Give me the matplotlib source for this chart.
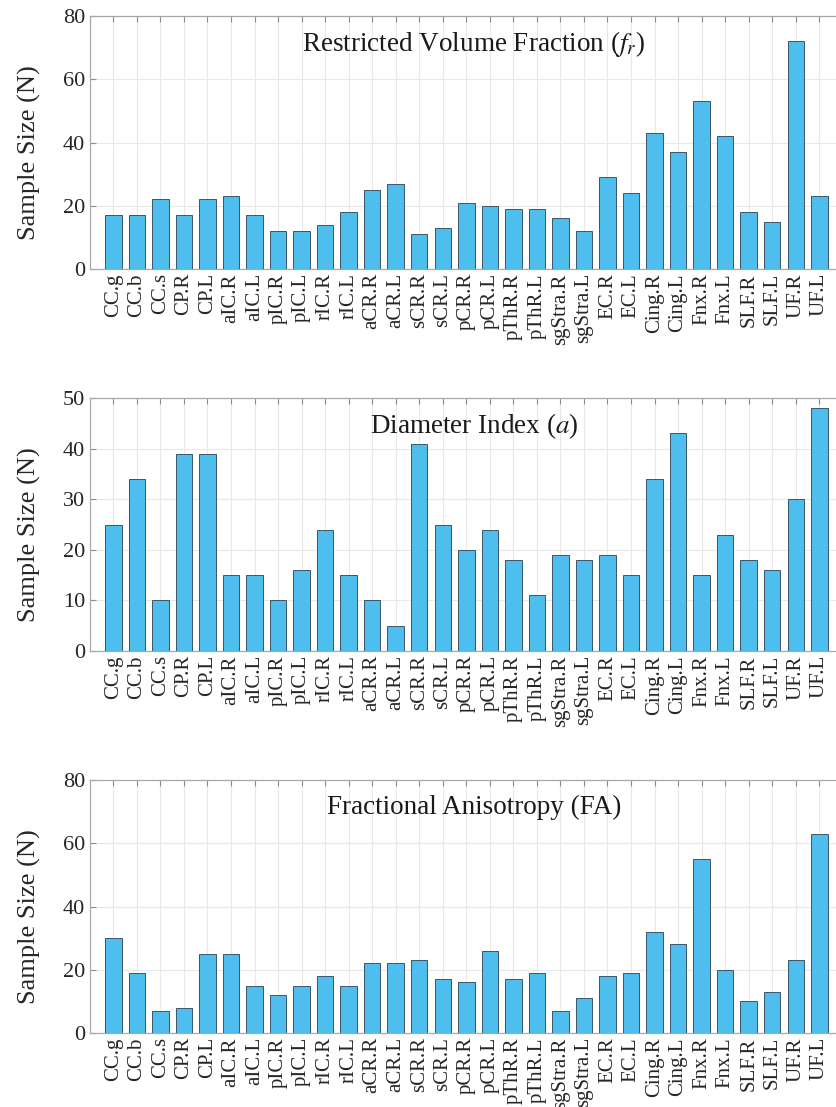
import matplotlib
matplotlib.use("Agg")
import matplotlib.pyplot as plt
import numpy as np

plt.rcParams['font.family'] = ['Liberation Serif', 'DejaVu Serif']
plt.rcParams['mathtext.fontset'] = 'stix'

regions = ["CC.g", "CC.b", "CC.s", "CP.R", "CP.L", "aIC.R", "aIC.L", "pIC.R", "pIC.L",
           "rIC.R", "rIC.L", "aCR.R", "aCR.L", "sCR.R", "sCR.L", "pCR.R", "pCR.L",
           "pThR.R", "pThR.L", "sgStra.R", "sgStra.L", "EC.R", "EC.L", "Cing.R", "Cing.L",
           "Fnx.R", "Fnx.L", "SLF.R", "SLF.L", "UF.R", "UF.L"]

fr_values = [17, 17, 22, 17, 22, 23, 17, 12, 12, 14, 18, 25, 27, 11, 13, 21, 20,
             19, 19, 16, 12, 29, 24, 43, 37, 53, 42, 18, 15, 72, 23]
a_values = [25, 34, 10, 39, 39, 15, 15, 10, 16, 24, 15, 10, 5, 41, 25, 20, 24,
            18, 11, 19, 18, 19, 15, 34, 43, 15, 23, 18, 16, 30, 48]
fa_values = [30, 19, 7, 8, 25, 25, 15, 12, 15, 18, 15, 22, 22, 23, 17, 16, 26,
             17, 19, 7, 11, 18, 19, 32, 28, 55, 20, 10, 13, 23, 63]

titles = [r"Restricted Volume Fraction ($f_r$)", r"Diameter Index ($a$)",
          r"Fractional Anisotropy (FA)"]
ylims = [80, 50, 80]
ysteps = [20, 10, 20]

W, H = 836, 1107
fig = plt.figure(figsize=(W / 100, H / 100), dpi=100)

ax_left = 89.8
ax_width = 753
panels = [(16, 269), (398, 651), (780, 1033)]

bar_color = "#4DBEEE"
edge_color = "#3b5566"

for vals, title, ylim, ystep, (top, bot) in zip([fr_values, a_values, fa_values],
                                               titles, ylims, ysteps, panels):
    ax = fig.add_axes([ax_left / W, 1 - bot / H, ax_width / W, (bot - top) / H])
    x = np.arange(1, len(regions) + 1)
    ax.bar(x, vals, width=0.7, color=bar_color, edgecolor=edge_color,
           linewidth=0.7, zorder=3)
    ax.set_xlim(0, 32)
    ax.set_ylim(0, ylim)
    ax.set_yticks(np.arange(0, ylim + 1, ystep))
    ax.set_xticks(x)
    ax.set_xticklabels(regions, rotation=90, fontsize=15, color="#262626")
    ax.tick_params(axis='y', labelsize=16, colors="#262626")
    ax.tick_params(axis='both', direction='in', length=4, width=0.8,
                   color="#8c8c8c", top=True, right=True)
    ax.tick_params(axis='x', pad=3)
    ax.grid(True, color="#e8e8e8", linewidth=0.8, zorder=0)
    ax.set_axisbelow(True)
    for sp in ax.spines.values():
        sp.set_color("#a8a8a8")
        sp.set_linewidth(0.9)
    ax.set_ylabel("Sample Size (N)", fontsize=19, color="#262626")
    ax.yaxis.set_label_coords(-0.065, 0.46)
    ax.text(0.51, 0.89, title, transform=ax.transAxes, ha='center', va='center',
            fontsize=19.5, color="#1a1a1a", zorder=5)

fig.savefig("out.png", dpi=100)
